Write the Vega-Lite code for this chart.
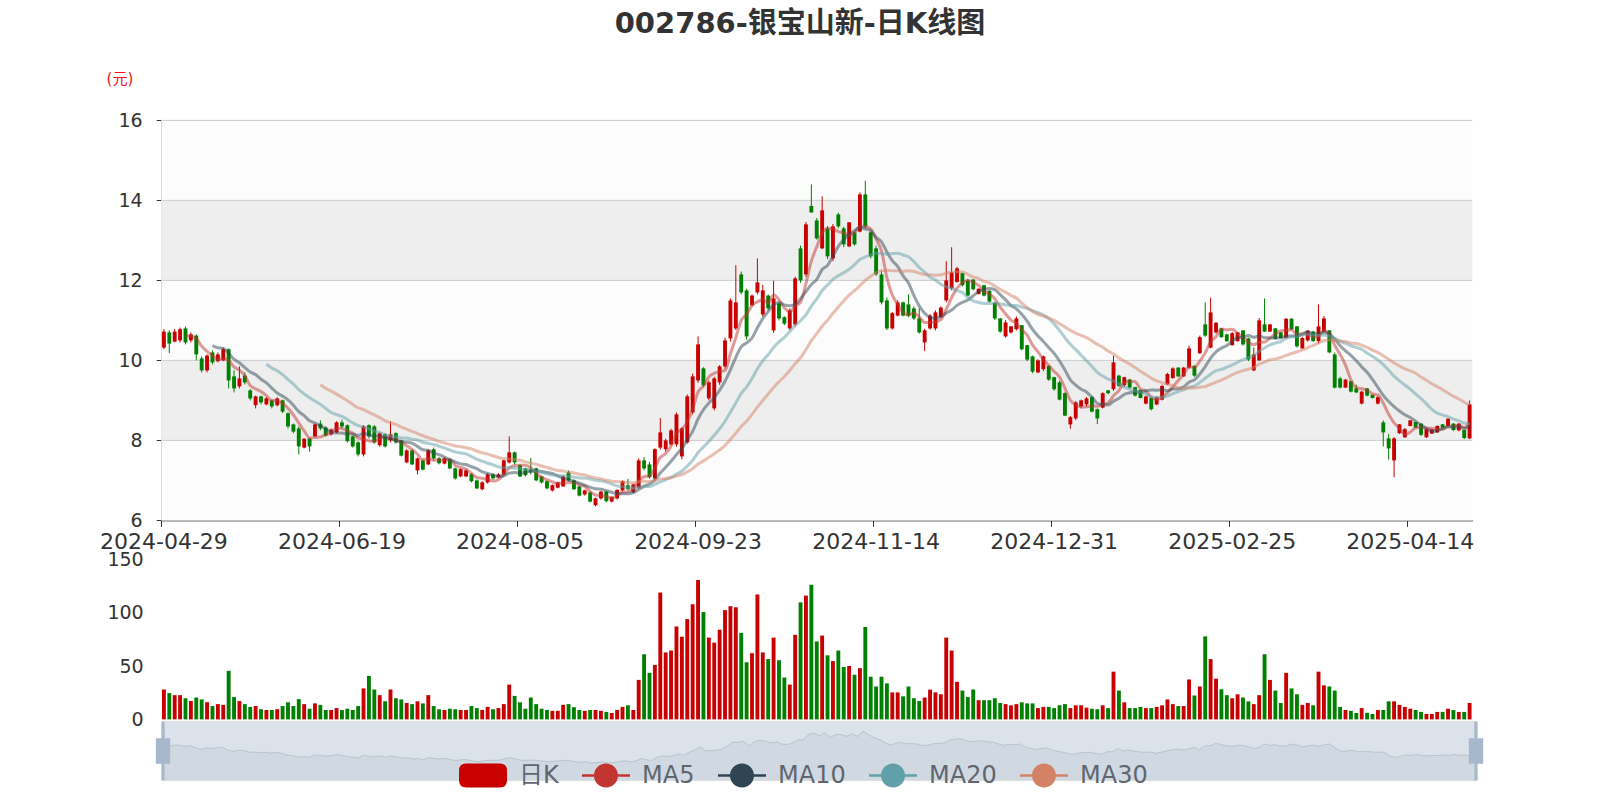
{
  "$schema": "https://vega.github.io/schema/vega-lite/v6.json",
  "width": 1600,
  "height": 800,
  "autosize": {"type": "fit", "contains": "padding"},
  "padding": 0,
  "background": "#ffffff",
  "config": {"view": {"stroke": null}, "font": "DejaVu Sans"},
  "title": {"text": "002786-银宝山新-日K线图", "font": "DejaVu Sans, Noto Sans CJK SC", "fontSize": 29, "fontWeight": "bold", "color": "#333333", "anchor": "middle", "frame": "group", "offset": -68, "baseline": "bottom"},
  "datasets": {
    "k": [
      {"d":"2024-04-29","o":10.32,"c":10.72,"l":10.28,"h":10.78,"v":28},
      {"d":"2024-04-30","o":10.70,"c":10.42,"l":10.18,"h":10.75,"v":24.6},
      {"d":"2024-05-06","o":10.47,"c":10.72,"l":10.45,"h":10.78,"v":22.7},
      {"d":"2024-05-07","o":10.50,"c":10.78,"l":10.45,"h":10.82,"v":22.7},
      {"d":"2024-05-08","o":10.80,"c":10.45,"l":10.40,"h":10.85,"v":19.8},
      {"d":"2024-05-09","o":10.50,"c":10.65,"l":10.45,"h":10.70,"v":17.2},
      {"d":"2024-05-10","o":10.62,"c":10.15,"l":10.00,"h":10.65,"v":20.5},
      {"d":"2024-05-13","o":10.05,"c":9.75,"l":9.70,"h":10.10,"v":18.7},
      {"d":"2024-05-14","o":9.75,"c":10.12,"l":9.70,"h":10.15,"v":16.1},
      {"d":"2024-05-15","o":10.20,"c":9.95,"l":9.90,"h":10.25,"v":12.5},
      {"d":"2024-05-16","o":9.98,"c":10.15,"l":9.95,"h":10.20,"v":14.3},
      {"d":"2024-05-17","o":10.00,"c":10.28,"l":9.98,"h":10.32,"v":13.6},
      {"d":"2024-05-20","o":10.28,"c":9.50,"l":9.30,"h":10.30,"v":45.5},
      {"d":"2024-05-21","o":9.60,"c":9.30,"l":9.20,"h":9.75,"v":20.9},
      {"d":"2024-05-22","o":9.35,"c":9.55,"l":9.30,"h":9.85,"v":17.2},
      {"d":"2024-05-23","o":9.62,"c":9.45,"l":9.40,"h":9.70,"v":14.3},
      {"d":"2024-05-24","o":9.25,"c":9.05,"l":9.00,"h":9.28,"v":11.7},
      {"d":"2024-05-27","o":8.88,"c":9.10,"l":8.80,"h":9.12,"v":12.5},
      {"d":"2024-05-28","o":9.10,"c":8.95,"l":8.90,"h":9.12,"v":9.5},
      {"d":"2024-05-29","o":8.90,"c":9.05,"l":8.88,"h":9.08,"v":8.8},
      {"d":"2024-05-30","o":9.00,"c":8.85,"l":8.80,"h":9.02,"v":8.8},
      {"d":"2024-05-31","o":8.88,"c":9.05,"l":8.85,"h":9.08,"v":9.5},
      {"d":"2024-06-03","o":9.00,"c":8.72,"l":8.68,"h":9.02,"v":12.5},
      {"d":"2024-06-04","o":8.68,"c":8.35,"l":8.30,"h":8.70,"v":16},
      {"d":"2024-06-05","o":8.40,"c":8.22,"l":8.18,"h":8.42,"v":12.5},
      {"d":"2024-06-06","o":8.30,"c":7.85,"l":7.65,"h":8.35,"v":19},
      {"d":"2024-06-07","o":7.82,"c":8.04,"l":7.80,"h":8.06,"v":14.3},
      {"d":"2024-06-11","o":8.05,"c":7.85,"l":7.72,"h":8.06,"v":10},
      {"d":"2024-06-12","o":8.10,"c":8.40,"l":8.08,"h":8.42,"v":15},
      {"d":"2024-06-13","o":8.42,"c":8.30,"l":8.25,"h":8.50,"v":13.6},
      {"d":"2024-06-14","o":8.32,"c":8.12,"l":8.10,"h":8.35,"v":8.8},
      {"d":"2024-06-17","o":8.15,"c":8.27,"l":8.12,"h":8.30,"v":8.8},
      {"d":"2024-06-18","o":8.20,"c":8.45,"l":8.18,"h":8.48,"v":10.6},
      {"d":"2024-06-19","o":8.45,"c":8.35,"l":8.30,"h":8.52,"v":8.8},
      {"d":"2024-06-20","o":8.38,"c":7.98,"l":7.95,"h":8.40,"v":10},
      {"d":"2024-06-21","o":8.10,"c":7.85,"l":7.82,"h":8.12,"v":8.8},
      {"d":"2024-06-24","o":7.95,"c":7.65,"l":7.60,"h":7.98,"v":12.5},
      {"d":"2024-06-25","o":7.65,"c":8.35,"l":7.60,"h":8.38,"v":29},
      {"d":"2024-06-26","o":8.38,"c":8.10,"l":8.05,"h":8.40,"v":40.7},
      {"d":"2024-06-27","o":8.35,"c":7.95,"l":7.92,"h":8.38,"v":28},
      {"d":"2024-06-28","o":7.88,"c":8.18,"l":7.84,"h":8.20,"v":22.7},
      {"d":"2024-07-01","o":8.15,"c":7.85,"l":7.82,"h":8.18,"v":17},
      {"d":"2024-07-02","o":8.00,"c":8.15,"l":7.95,"h":8.48,"v":28},
      {"d":"2024-07-03","o":8.18,"c":7.95,"l":7.92,"h":8.20,"v":19.8},
      {"d":"2024-07-04","o":8.00,"c":7.62,"l":7.60,"h":8.02,"v":18.7},
      {"d":"2024-07-05","o":7.45,"c":7.75,"l":7.43,"h":7.78,"v":15.4},
      {"d":"2024-07-08","o":7.75,"c":7.40,"l":7.38,"h":7.78,"v":14.3},
      {"d":"2024-07-09","o":7.25,"c":7.55,"l":7.15,"h":7.57,"v":16.9},
      {"d":"2024-07-10","o":7.50,"c":7.27,"l":7.25,"h":7.52,"v":15},
      {"d":"2024-07-11","o":7.40,"c":7.75,"l":7.38,"h":7.78,"v":22.7},
      {"d":"2024-07-12","o":7.78,"c":7.55,"l":7.50,"h":7.82,"v":12.5},
      {"d":"2024-07-15","o":7.55,"c":7.43,"l":7.40,"h":7.58,"v":9.5},
      {"d":"2024-07-16","o":7.42,"c":7.55,"l":7.40,"h":7.58,"v":8.8},
      {"d":"2024-07-17","o":7.52,"c":7.30,"l":7.28,"h":7.55,"v":10},
      {"d":"2024-07-18","o":7.30,"c":7.05,"l":7.02,"h":7.32,"v":9.5},
      {"d":"2024-07-19","o":7.10,"c":7.28,"l":7.08,"h":7.30,"v":8.8},
      {"d":"2024-07-22","o":7.10,"c":7.25,"l":7.08,"h":7.28,"v":8.8},
      {"d":"2024-07-23","o":7.15,"c":6.98,"l":6.95,"h":7.18,"v":12.5},
      {"d":"2024-07-24","o":7.00,"c":6.80,"l":6.78,"h":7.02,"v":10.6},
      {"d":"2024-07-25","o":6.78,"c":6.95,"l":6.75,"h":6.98,"v":8.8},
      {"d":"2024-07-26","o":6.95,"c":7.15,"l":6.92,"h":7.18,"v":11.7},
      {"d":"2024-07-29","o":7.15,"c":7.05,"l":7.02,"h":7.18,"v":9.5},
      {"d":"2024-07-30","o":7.08,"c":7.15,"l":7.05,"h":7.18,"v":10.6},
      {"d":"2024-07-31","o":7.15,"c":7.50,"l":7.12,"h":7.52,"v":14.3},
      {"d":"2024-08-01","o":7.45,"c":7.70,"l":7.42,"h":8.10,"v":32.6},
      {"d":"2024-08-02","o":7.70,"c":7.45,"l":7.40,"h":7.72,"v":22},
      {"d":"2024-08-05","o":7.38,"c":7.10,"l":7.08,"h":7.40,"v":16},
      {"d":"2024-08-06","o":7.30,"c":7.13,"l":7.10,"h":7.32,"v":10},
      {"d":"2024-08-07","o":7.28,"c":7.20,"l":7.15,"h":7.56,"v":20.5},
      {"d":"2024-08-08","o":7.30,"c":7.00,"l":6.98,"h":7.32,"v":14.3},
      {"d":"2024-08-09","o":7.10,"c":6.95,"l":6.92,"h":7.12,"v":10},
      {"d":"2024-08-12","o":6.98,"c":6.80,"l":6.78,"h":7.00,"v":8.8},
      {"d":"2024-08-13","o":6.75,"c":6.88,"l":6.72,"h":6.90,"v":8},
      {"d":"2024-08-14","o":6.82,"c":6.95,"l":6.80,"h":6.97,"v":8},
      {"d":"2024-08-15","o":6.85,"c":7.10,"l":6.84,"h":7.12,"v":13.6},
      {"d":"2024-08-16","o":7.20,"c":7.00,"l":6.98,"h":7.25,"v":14.3},
      {"d":"2024-08-19","o":7.00,"c":6.78,"l":6.76,"h":7.02,"v":11.4},
      {"d":"2024-08-20","o":6.85,"c":6.62,"l":6.60,"h":6.87,"v":8.8},
      {"d":"2024-08-21","o":6.65,"c":6.75,"l":6.62,"h":6.77,"v":8},
      {"d":"2024-08-22","o":6.70,"c":6.47,"l":6.45,"h":6.72,"v":8.8},
      {"d":"2024-08-23","o":6.38,"c":6.55,"l":6.35,"h":6.57,"v":8.8},
      {"d":"2024-08-26","o":6.55,"c":6.72,"l":6.52,"h":6.74,"v":8},
      {"d":"2024-08-27","o":6.72,"c":6.48,"l":6.45,"h":6.74,"v":7},
      {"d":"2024-08-28","o":6.47,"c":6.58,"l":6.45,"h":6.60,"v":6},
      {"d":"2024-08-29","o":6.55,"c":6.76,"l":6.52,"h":6.78,"v":8.8},
      {"d":"2024-08-30","o":6.75,"c":6.98,"l":6.72,"h":7.00,"v":11.7},
      {"d":"2024-09-02","o":6.88,"c":6.78,"l":6.75,"h":7.04,"v":13.2},
      {"d":"2024-09-03","o":6.70,"c":6.90,"l":6.68,"h":6.92,"v":8.8},
      {"d":"2024-09-04","o":6.82,"c":7.50,"l":6.79,"h":7.55,"v":37},
      {"d":"2024-09-05","o":7.50,"c":7.30,"l":7.25,"h":7.58,"v":61},
      {"d":"2024-09-06","o":7.40,"c":7.08,"l":7.04,"h":7.46,"v":43.6},
      {"d":"2024-09-09","o":7.05,"c":7.78,"l":7.02,"h":7.80,"v":51},
      {"d":"2024-09-10","o":7.82,"c":8.20,"l":7.77,"h":8.56,"v":118.8},
      {"d":"2024-09-11","o":7.78,"c":8.00,"l":7.72,"h":8.04,"v":62.7},
      {"d":"2024-09-12","o":7.90,"c":8.25,"l":7.87,"h":8.29,"v":64.5},
      {"d":"2024-09-13","o":7.90,"c":8.65,"l":7.84,"h":8.70,"v":87},
      {"d":"2024-09-18","o":7.60,"c":8.30,"l":7.53,"h":8.33,"v":77.4},
      {"d":"2024-09-19","o":7.95,"c":9.10,"l":7.92,"h":9.15,"v":93.9},
      {"d":"2024-09-20","o":8.70,"c":9.60,"l":8.65,"h":9.67,"v":107.8},
      {"d":"2024-09-23","o":9.50,"c":10.40,"l":9.44,"h":10.60,"v":130.5},
      {"d":"2024-09-24","o":9.80,"c":9.38,"l":9.34,"h":9.83,"v":100.5},
      {"d":"2024-09-25","o":9.05,"c":9.45,"l":9.00,"h":9.49,"v":76.6},
      {"d":"2024-09-26","o":8.80,"c":9.55,"l":8.75,"h":9.59,"v":71.9},
      {"d":"2024-09-27","o":9.45,"c":9.85,"l":9.39,"h":9.88,"v":84},
      {"d":"2024-09-30","o":9.85,"c":10.50,"l":9.79,"h":10.57,"v":102.3},
      {"d":"2024-10-08","o":10.55,"c":11.50,"l":10.47,"h":11.55,"v":106},
      {"d":"2024-10-09","o":10.80,"c":11.45,"l":10.76,"h":12.38,"v":105},
      {"d":"2024-10-10","o":12.15,"c":11.70,"l":11.65,"h":12.22,"v":81},
      {"d":"2024-10-11","o":11.75,"c":10.60,"l":10.52,"h":11.79,"v":53.5},
      {"d":"2024-10-14","o":11.38,"c":11.62,"l":11.35,"h":11.65,"v":62},
      {"d":"2024-10-15","o":11.70,"c":11.95,"l":11.65,"h":12.55,"v":117},
      {"d":"2024-10-16","o":11.15,"c":11.75,"l":11.10,"h":11.89,"v":62.7},
      {"d":"2024-10-17","o":11.62,"c":11.30,"l":11.25,"h":11.65,"v":56.5},
      {"d":"2024-10-18","o":10.75,"c":11.55,"l":10.69,"h":11.99,"v":76.6},
      {"d":"2024-10-21","o":11.42,"c":11.05,"l":11.00,"h":11.45,"v":55.4},
      {"d":"2024-10-22","o":11.08,"c":10.92,"l":10.88,"h":11.10,"v":39.2},
      {"d":"2024-10-23","o":10.80,"c":11.25,"l":10.76,"h":11.30,"v":32.6},
      {"d":"2024-10-24","o":10.90,"c":12.05,"l":10.86,"h":12.09,"v":79.2},
      {"d":"2024-10-25","o":12.80,"c":12.00,"l":11.94,"h":12.87,"v":109.6},
      {"d":"2024-10-28","o":12.15,"c":13.40,"l":12.09,"h":13.46,"v":115.9},
      {"d":"2024-10-29","o":13.86,"c":13.70,"l":13.69,"h":14.40,"v":126},
      {"d":"2024-10-30","o":13.50,"c":13.05,"l":13.02,"h":13.56,"v":73},
      {"d":"2024-10-31","o":12.80,"c":13.75,"l":12.78,"h":14.10,"v":78.5},
      {"d":"2024-11-01","o":13.30,"c":12.60,"l":12.53,"h":13.36,"v":60},
      {"d":"2024-11-04","o":12.55,"c":13.35,"l":12.48,"h":13.41,"v":54.6},
      {"d":"2024-11-05","o":13.65,"c":13.35,"l":13.30,"h":13.69,"v":64.5},
      {"d":"2024-11-06","o":13.30,"c":12.90,"l":12.83,"h":13.34,"v":49},
      {"d":"2024-11-07","o":12.85,"c":13.45,"l":12.83,"h":13.46,"v":50},
      {"d":"2024-11-08","o":13.20,"c":12.90,"l":12.87,"h":13.22,"v":41.8},
      {"d":"2024-11-11","o":13.22,"c":14.15,"l":13.20,"h":14.20,"v":48},
      {"d":"2024-11-12","o":14.15,"c":13.35,"l":13.30,"h":14.49,"v":86.5},
      {"d":"2024-11-13","o":13.20,"c":12.60,"l":12.55,"h":13.22,"v":40},
      {"d":"2024-11-14","o":12.80,"c":12.15,"l":12.12,"h":12.87,"v":30.8},
      {"d":"2024-11-15","o":12.15,"c":11.45,"l":11.40,"h":12.24,"v":40},
      {"d":"2024-11-18","o":11.50,"c":10.80,"l":10.76,"h":11.57,"v":33.7},
      {"d":"2024-11-19","o":10.80,"c":11.18,"l":10.77,"h":11.21,"v":25.3},
      {"d":"2024-11-20","o":11.12,"c":11.45,"l":11.10,"h":11.50,"v":25.3},
      {"d":"2024-11-21","o":11.45,"c":11.12,"l":11.10,"h":11.47,"v":21.6},
      {"d":"2024-11-22","o":11.40,"c":11.12,"l":11.08,"h":11.65,"v":30.8},
      {"d":"2024-11-25","o":11.30,"c":11.05,"l":11.01,"h":11.35,"v":19.8},
      {"d":"2024-11-26","o":11.05,"c":10.70,"l":10.67,"h":11.30,"v":17.2},
      {"d":"2024-11-27","o":10.45,"c":10.75,"l":10.23,"h":10.79,"v":20.5},
      {"d":"2024-11-28","o":10.80,"c":11.12,"l":10.77,"h":11.16,"v":27.9},
      {"d":"2024-11-29","o":10.80,"c":11.20,"l":10.75,"h":11.25,"v":25.3},
      {"d":"2024-12-02","o":11.08,"c":11.32,"l":11.06,"h":11.35,"v":23.5},
      {"d":"2024-12-03","o":11.50,"c":12.00,"l":11.45,"h":12.48,"v":76.6},
      {"d":"2024-12-04","o":11.80,"c":12.20,"l":11.75,"h":12.83,"v":64.5},
      {"d":"2024-12-05","o":11.96,"c":12.30,"l":11.94,"h":12.34,"v":35.2},
      {"d":"2024-12-06","o":12.18,"c":11.88,"l":11.85,"h":12.19,"v":27},
      {"d":"2024-12-09","o":12.00,"c":11.62,"l":11.60,"h":12.04,"v":20.9},
      {"d":"2024-12-10","o":12.02,"c":11.78,"l":11.75,"h":12.04,"v":28},
      {"d":"2024-12-11","o":11.66,"c":11.79,"l":11.65,"h":11.80,"v":18},
      {"d":"2024-12-12","o":11.88,"c":11.62,"l":11.60,"h":11.89,"v":18},
      {"d":"2024-12-13","o":11.74,"c":11.47,"l":11.45,"h":11.75,"v":18},
      {"d":"2024-12-16","o":11.44,"c":11.05,"l":11.01,"h":11.45,"v":19.8},
      {"d":"2024-12-17","o":11.05,"c":10.72,"l":10.69,"h":11.06,"v":15.4},
      {"d":"2024-12-18","o":10.60,"c":10.95,"l":10.57,"h":11.01,"v":14.3},
      {"d":"2024-12-19","o":10.70,"c":10.85,"l":10.67,"h":10.86,"v":13.2},
      {"d":"2024-12-20","o":10.78,"c":11.05,"l":10.75,"h":11.10,"v":14.3},
      {"d":"2024-12-23","o":10.88,"c":10.28,"l":10.25,"h":10.88,"v":16},
      {"d":"2024-12-24","o":10.38,"c":10.02,"l":9.98,"h":10.39,"v":15},
      {"d":"2024-12-25","o":10.10,"c":9.72,"l":9.68,"h":10.12,"v":15},
      {"d":"2024-12-26","o":9.70,"c":10.00,"l":9.68,"h":10.03,"v":10.6},
      {"d":"2024-12-27","o":9.78,"c":10.10,"l":9.73,"h":10.12,"v":11.7},
      {"d":"2024-12-30","o":9.86,"c":9.52,"l":9.49,"h":9.88,"v":11.7},
      {"d":"2024-12-31","o":9.58,"c":9.28,"l":9.24,"h":9.59,"v":10.6},
      {"d":"2025-01-02","o":9.45,"c":9.02,"l":9.00,"h":9.49,"v":13.2},
      {"d":"2025-01-03","o":9.18,"c":8.62,"l":8.61,"h":9.20,"v":14.3},
      {"d":"2025-01-06","o":8.40,"c":8.58,"l":8.29,"h":8.61,"v":10.6},
      {"d":"2025-01-07","o":8.55,"c":8.95,"l":8.51,"h":8.98,"v":13.2},
      {"d":"2025-01-08","o":8.85,"c":9.00,"l":8.80,"h":9.02,"v":13.2},
      {"d":"2025-01-09","o":8.90,"c":9.05,"l":8.85,"h":9.08,"v":11},
      {"d":"2025-01-10","o":9.08,"c":8.72,"l":8.70,"h":9.10,"v":10},
      {"d":"2025-01-13","o":8.78,"c":8.55,"l":8.41,"h":8.80,"v":9.5},
      {"d":"2025-01-14","o":8.82,"c":9.18,"l":8.80,"h":9.20,"v":13.2},
      {"d":"2025-01-15","o":9.25,"c":9.18,"l":9.15,"h":9.26,"v":10.6},
      {"d":"2025-01-16","o":9.28,"c":9.95,"l":9.24,"h":10.12,"v":44.7},
      {"d":"2025-01-17","o":9.62,"c":9.36,"l":9.34,"h":9.64,"v":27},
      {"d":"2025-01-20","o":9.38,"c":9.58,"l":9.34,"h":9.59,"v":16},
      {"d":"2025-01-21","o":9.52,"c":9.32,"l":9.30,"h":9.54,"v":10.6},
      {"d":"2025-01-22","o":9.33,"c":9.12,"l":9.10,"h":9.34,"v":10.6},
      {"d":"2025-01-23","o":9.26,"c":9.06,"l":9.05,"h":9.27,"v":11.7},
      {"d":"2025-01-24","o":8.92,"c":9.10,"l":8.90,"h":9.12,"v":10.6},
      {"d":"2025-01-27","o":9.06,"c":8.78,"l":8.75,"h":9.08,"v":10.6},
      {"d":"2025-02-05","o":8.90,"c":9.08,"l":8.88,"h":9.10,"v":11.7},
      {"d":"2025-02-06","o":9.02,"c":9.36,"l":9.00,"h":9.39,"v":13.2},
      {"d":"2025-02-07","o":9.40,"c":9.66,"l":9.39,"h":9.69,"v":18.7},
      {"d":"2025-02-10","o":9.56,"c":9.80,"l":9.54,"h":9.83,"v":14.3},
      {"d":"2025-02-11","o":9.82,"c":9.60,"l":9.59,"h":9.83,"v":12.5},
      {"d":"2025-02-12","o":9.60,"c":9.82,"l":9.59,"h":9.84,"v":12.5},
      {"d":"2025-02-13","o":9.82,"c":10.30,"l":9.79,"h":10.37,"v":37.4},
      {"d":"2025-02-14","o":9.86,"c":9.62,"l":9.59,"h":9.88,"v":22.4},
      {"d":"2025-02-17","o":10.18,"c":10.58,"l":10.16,"h":10.62,"v":30.8},
      {"d":"2025-02-18","o":10.90,"c":10.62,"l":10.59,"h":11.45,"v":77.7},
      {"d":"2025-02-19","o":10.32,"c":11.20,"l":10.30,"h":11.57,"v":56.5},
      {"d":"2025-02-20","o":10.70,"c":10.94,"l":10.67,"h":10.96,"v":38.1},
      {"d":"2025-02-21","o":10.80,"c":10.58,"l":10.57,"h":10.81,"v":28.2},
      {"d":"2025-02-24","o":10.65,"c":10.48,"l":10.47,"h":10.67,"v":22.7},
      {"d":"2025-02-25","o":10.38,"c":10.68,"l":10.37,"h":10.71,"v":19.8},
      {"d":"2025-02-26","o":10.48,"c":10.70,"l":10.47,"h":10.71,"v":23.5},
      {"d":"2025-02-27","o":10.75,"c":10.40,"l":10.37,"h":10.76,"v":20.5},
      {"d":"2025-02-28","o":10.55,"c":10.02,"l":9.98,"h":10.57,"v":16.9},
      {"d":"2025-03-03","o":9.75,"c":10.15,"l":9.73,"h":10.32,"v":14.3},
      {"d":"2025-03-04","o":10.00,"c":11.00,"l":9.98,"h":11.06,"v":22.7},
      {"d":"2025-03-05","o":10.90,"c":10.72,"l":10.71,"h":11.55,"v":61},
      {"d":"2025-03-06","o":10.72,"c":10.90,"l":10.71,"h":10.91,"v":37},
      {"d":"2025-03-07","o":10.80,"c":10.54,"l":10.52,"h":10.81,"v":27},
      {"d":"2025-03-10","o":10.70,"c":10.56,"l":10.55,"h":10.71,"v":15.4},
      {"d":"2025-03-11","o":10.56,"c":11.04,"l":10.55,"h":11.06,"v":43.6},
      {"d":"2025-03-12","o":11.04,"c":10.78,"l":10.76,"h":11.06,"v":29},
      {"d":"2025-03-13","o":10.85,"c":10.35,"l":10.32,"h":10.86,"v":23.5},
      {"d":"2025-03-14","o":10.30,"c":10.56,"l":10.28,"h":10.59,"v":13.6},
      {"d":"2025-03-17","o":10.50,"c":10.74,"l":10.47,"h":10.76,"v":15.4},
      {"d":"2025-03-18","o":10.72,"c":10.48,"l":10.47,"h":10.74,"v":13.2},
      {"d":"2025-03-19","o":10.48,"c":10.85,"l":10.42,"h":11.40,"v":44.7},
      {"d":"2025-03-20","o":10.72,"c":11.05,"l":10.71,"h":11.11,"v":31.9},
      {"d":"2025-03-21","o":10.75,"c":10.20,"l":10.18,"h":10.76,"v":30.8},
      {"d":"2025-03-24","o":10.15,"c":9.32,"l":9.30,"h":10.20,"v":27},
      {"d":"2025-03-25","o":9.55,"c":9.32,"l":9.30,"h":9.59,"v":11.7},
      {"d":"2025-03-26","o":9.32,"c":9.52,"l":9.31,"h":9.54,"v":8.8},
      {"d":"2025-03-27","o":9.48,"c":9.22,"l":9.20,"h":9.49,"v":8},
      {"d":"2025-03-28","o":9.30,"c":9.20,"l":9.18,"h":9.39,"v":6},
      {"d":"2025-03-31","o":8.92,"c":9.22,"l":8.90,"h":9.24,"v":10.6},
      {"d":"2025-04-01","o":9.30,"c":9.12,"l":9.10,"h":9.31,"v":6.2},
      {"d":"2025-04-02","o":9.14,"c":9.06,"l":9.05,"h":9.14,"v":5.1},
      {"d":"2025-04-03","o":8.92,"c":9.08,"l":8.90,"h":9.10,"v":8.8},
      {"d":"2025-04-07","o":8.45,"c":8.20,"l":7.85,"h":8.50,"v":8.8},
      {"d":"2025-04-08","o":8.05,"c":7.80,"l":7.52,"h":8.16,"v":16.9},
      {"d":"2025-04-09","o":7.50,"c":8.05,"l":7.08,"h":8.08,"v":16.9},
      {"d":"2025-04-10","o":8.18,"c":8.40,"l":8.16,"h":8.41,"v":13.6},
      {"d":"2025-04-11","o":8.08,"c":8.28,"l":8.06,"h":8.31,"v":11.7},
      {"d":"2025-04-14","o":8.36,"c":8.50,"l":8.35,"h":8.51,"v":10},
      {"d":"2025-04-15","o":8.46,"c":8.32,"l":8.31,"h":8.46,"v":8.8},
      {"d":"2025-04-16","o":8.42,"c":8.14,"l":8.11,"h":8.43,"v":7},
      {"d":"2025-04-17","o":8.08,"c":8.28,"l":8.06,"h":8.31,"v":5.1},
      {"d":"2025-04-18","o":8.17,"c":8.28,"l":8.16,"h":8.29,"v":5.1},
      {"d":"2025-04-21","o":8.20,"c":8.36,"l":8.19,"h":8.38,"v":7},
      {"d":"2025-04-22","o":8.40,"c":8.32,"l":8.31,"h":8.41,"v":7},
      {"d":"2025-04-23","o":8.36,"c":8.54,"l":8.35,"h":8.56,"v":10},
      {"d":"2025-04-24","o":8.42,"c":8.26,"l":8.23,"h":8.43,"v":8.8},
      {"d":"2025-04-25","o":8.25,"c":8.42,"l":8.23,"h":8.43,"v":7},
      {"d":"2025-04-28","o":8.26,"c":8.06,"l":8.03,"h":8.26,"v":7},
      {"d":"2025-04-29","o":8.05,"c":8.90,"l":8.03,"h":9.00,"v":15.4}
    ]
  },
  "data": {"name": "k"},
  "layer": [
    {
      "data": {"values": [{}]},
      "layer": [
        {
          "mark": {"type": "rect", "color": "#fcfcfc"},
          "encoding": {
            "x": {"datum": 0, "type": "quantitative", "scale": {"domain": [0, 1], "range": [161.2, 1472.3], "nice": false, "zero": false}, "axis": null},
            "x2": {"datum": 1},
            "y": {"datum": 16, "type": "quantitative", "scale": {"domain": [6, 16], "range": [520.4, 120.4], "nice": false, "zero": false},
              "axis": {"orient": "left", "offset": -161.2, "values": [6, 8, 10, 12, 14, 16], "format": "d", "grid": false, "domainColor": "#333333", "domainWidth": 1, "tickColor": "#333333", "tickSize": 5, "labelFontSize": 19, "labelColor": "#333333", "labelPadding": 14, "labelFont": "DejaVu Sans",
                "title": "(元)", "titleColor": "#ee1111", "titleFontSize": 15, "titleFontWeight": "normal", "titleFont": "DejaVu Sans, Noto Sans CJK SC", "titleAngle": 0, "titleX": -41.8, "titleY": 78.6, "titleAlign": "center", "titleBaseline": "middle"}},
            "y2": {"datum": 6}
          }
        },
        {
          "mark": {"type": "rect", "color": "#eeeeee"},
          "encoding": {"x": {"datum": 0, "type": "quantitative"}, "x2": {"datum": 1}, "y": {"datum": 14, "type": "quantitative"}, "y2": {"datum": 12}}
        },
        {
          "mark": {"type": "rect", "color": "#eeeeee"},
          "encoding": {"x": {"datum": 0, "type": "quantitative"}, "x2": {"datum": 1}, "y": {"datum": 10, "type": "quantitative"}, "y2": {"datum": 8}}
        },
        {"mark": {"type": "rule", "color": "#cccccc", "strokeWidth": 1}, "encoding": {"x": {"datum": 0, "type": "quantitative"}, "x2": {"datum": 1}, "y": {"datum": 16, "type": "quantitative"}}},
        {"mark": {"type": "rule", "color": "#cccccc", "strokeWidth": 1}, "encoding": {"x": {"datum": 0, "type": "quantitative"}, "x2": {"datum": 1}, "y": {"datum": 14, "type": "quantitative"}}},
        {"mark": {"type": "rule", "color": "#cccccc", "strokeWidth": 1}, "encoding": {"x": {"datum": 0, "type": "quantitative"}, "x2": {"datum": 1}, "y": {"datum": 12, "type": "quantitative"}}},
        {"mark": {"type": "rule", "color": "#cccccc", "strokeWidth": 1}, "encoding": {"x": {"datum": 0, "type": "quantitative"}, "x2": {"datum": 1}, "y": {"datum": 10, "type": "quantitative"}}},
        {"mark": {"type": "rule", "color": "#cccccc", "strokeWidth": 1}, "encoding": {"x": {"datum": 0, "type": "quantitative"}, "x2": {"datum": 1}, "y": {"datum": 8, "type": "quantitative"}}}
      ]
    },
    {
      "layer": [
        {
          "mark": {"type": "rule", "strokeWidth": 1},
          "encoding": {
            "x": {"field": "d", "type": "ordinal", "scale": {"type": "band", "range": [161.2, 1472.3], "paddingInner": 0, "paddingOuter": 0},
              "axis": {"orient": "bottom", "offset": -279.6, "values": ["2024-04-29", "2024-06-19", "2024-08-05", "2024-09-23", "2024-11-14", "2024-12-31", "2025-02-25", "2025-04-14"], "bandPosition": 0, "labelAngle": 0, "labelFontSize": 22, "labelColor": "#333333", "labelFont": "DejaVu Sans", "labelPadding": 5, "tickSize": 6, "tickColor": "#333333", "domainColor": "#333333", "domainWidth": 1, "grid": false, "title": null, "labelOverlap": false}},
            "y": {"field": "l", "type": "quantitative", "scale": {"domain": [6, 16], "range": [520.4, 120.4], "nice": false, "zero": false}, "axis": null},
            "y2": {"field": "h"},
            "color": {"condition": {"test": "datum.c >= datum.o", "value": "#c80000"}, "value": "#008000"}
          }
        },
        {
          "mark": {"type": "bar", "width": {"band": 0.72}},
          "encoding": {
            "x": {"field": "d", "type": "ordinal"},
            "y": {"field": "o", "type": "quantitative"},
            "y2": {"field": "c"},
            "color": {"condition": {"test": "datum.c >= datum.o", "value": "#c80000"}, "value": "#008000"}
          }
        },
        {
          "transform": [{"window": [{"op": "mean", "field": "c", "as": "ma"}, {"op": "count", "as": "n"}], "frame": [-4, 0], "sort": [{"field": "d"}]}, {"filter": "datum.n == 5"}],
          "mark": {"type": "line", "interpolate": "monotone", "strokeWidth": 3, "opacity": 0.5},
          "encoding": {
            "x": {"field": "d", "type": "ordinal"},
            "y": {"field": "ma", "type": "quantitative"},
            "color": {"datum": "MA5", "type": "nominal",
              "scale": {"domain": ["日K", "MA5", "MA10", "MA20", "MA30"], "range": ["#c80000", "#c23531", "#2f4554", "#61a0a8", "#d48265"]},
              "legend": {"orient": "none", "legendX": 459, "legendY": 751.5, "direction": "horizontal", "title": null, "labelFontSize": 24, "labelColor": "#5f6670", "labelFont": "DejaVu Sans, Noto Sans CJK SC", "symbolSize": 2304, "columnPadding": 23, "labelOffset": 12, "symbolOpacity": 1, "symbolStrokeWidth": 0,
                "encode": {"symbols": {"update": {
                  "shape": {"signal": "datum.value === '日K' ? 'M-0.7,-0.5 L0.7,-0.5 Q1,-0.5 1,-0.2 L1,0.2 Q1,0.5 0.7,0.5 L-0.7,0.5 Q-1,0.5 -1,0.2 L-1,-0.2 Q-1,-0.5 -0.7,-0.5 Z' : 'M-1,-0.05 L1,-0.05 L1,0.05 L-1,0.05 Z M0.5,0 A0.5,0.5 0 1,1 -0.5,0 A0.5,0.5 0 1,1 0.5,0 Z'"},
                  "fill": {"scale": "color", "field": "value"},
                  "opacity": {"value": 1},
                  "strokeWidth": {"value": 0}
                }}}}
            }
          }
        },
        {
          "transform": [{"window": [{"op": "mean", "field": "c", "as": "ma"}, {"op": "count", "as": "n"}], "frame": [-9, 0], "sort": [{"field": "d"}]}, {"filter": "datum.n == 10"}],
          "mark": {"type": "line", "interpolate": "monotone", "strokeWidth": 3, "opacity": 0.5},
          "encoding": {"x": {"field": "d", "type": "ordinal"}, "y": {"field": "ma", "type": "quantitative"}, "color": {"datum": "MA10", "type": "nominal"}}
        },
        {
          "transform": [{"window": [{"op": "mean", "field": "c", "as": "ma"}, {"op": "count", "as": "n"}], "frame": [-19, 0], "sort": [{"field": "d"}]}, {"filter": "datum.n == 20"}],
          "mark": {"type": "line", "interpolate": "monotone", "strokeWidth": 3, "opacity": 0.5},
          "encoding": {"x": {"field": "d", "type": "ordinal"}, "y": {"field": "ma", "type": "quantitative"}, "color": {"datum": "MA20", "type": "nominal"}}
        },
        {
          "transform": [{"window": [{"op": "mean", "field": "c", "as": "ma"}, {"op": "count", "as": "n"}], "frame": [-29, 0], "sort": [{"field": "d"}]}, {"filter": "datum.n == 30"}],
          "mark": {"type": "line", "interpolate": "monotone", "strokeWidth": 3, "opacity": 0.5},
          "encoding": {"x": {"field": "d", "type": "ordinal"}, "y": {"field": "ma", "type": "quantitative"}, "color": {"datum": "MA30", "type": "nominal"}}
        }
      ]
    },
    {
      "mark": {"type": "bar", "width": {"band": 0.72}},
      "encoding": {
        "x": {"field": "d", "type": "ordinal", "scale": {"type": "band", "range": [161.2, 1472.3], "paddingInner": 0, "paddingOuter": 0}, "axis": null},
        "y": {"field": "v", "type": "quantitative", "scale": {"domain": [0, 150], "range": [719.4, 559.2], "nice": false},
          "axis": {"orient": "left", "offset": -161.2, "values": [0, 50, 100, 150], "domain": false, "ticks": false, "grid": false, "labelFontSize": 19, "labelColor": "#333333", "labelFont": "DejaVu Sans", "labelPadding": 18, "title": null}},
        "color": {"condition": {"test": "datum.c >= datum.o", "value": "#c80000"}, "value": "#008000"}
      }
    },
    {
      "layer": [
        {
          "layer": [
            {
              "mark": {"type": "area", "color": "#2f4554", "opacity": 0.09},
              "encoding": {
                "x": {"field": "d", "type": "ordinal", "scale": {"type": "point", "range": [163, 1476], "padding": 0}, "axis": null},
                "y": {"field": "c", "type": "quantitative", "scale": {"domain": [2.2, 16.5], "range": [780.6, 721.4], "nice": false, "zero": false}, "axis": null},
                "y2": {"datum": 2.2}
              }
            },
            {
              "mark": {"type": "line", "color": "#2f4554", "opacity": 0.3, "strokeWidth": 0.8},
              "encoding": {"x": {"field": "d", "type": "ordinal"}, "y": {"field": "c", "type": "quantitative"}}
            }
          ]
        },
        {
          "data": {"values": [{}]},
          "layer": [
            {
              "mark": {"type": "rect", "fill": "#a7b7cb", "fillOpacity": 0.4, "stroke": "#dddddd", "strokeWidth": 1},
              "encoding": {
                "x": {"datum": 0, "type": "quantitative", "scale": {"domain": [0, 1], "range": [163, 1476], "nice": false, "zero": false}, "axis": null},
                "x2": {"datum": 1},
                "y": {"datum": 2.2, "type": "quantitative"},
                "y2": {"datum": 16.5}
              }
            },
            {
              "mark": {"type": "point", "filled": true, "color": "#a7b7cc", "opacity": 1, "size": 3505, "shape": "M-0.242,-0.434 L0.242,-0.434 L0.242,0.434 L-0.242,0.434 Z M-0.055,-1 L0.055,-1 L0.055,1 L-0.055,1 Z"},
              "encoding": {"x": {"datum": 0, "type": "quantitative"}, "y": {"datum": 9.35, "type": "quantitative"}}
            },
            {
              "mark": {"type": "point", "filled": true, "color": "#a7b7cc", "opacity": 1, "size": 3505, "shape": "M-0.242,-0.434 L0.242,-0.434 L0.242,0.434 L-0.242,0.434 Z M-0.055,-1 L0.055,-1 L0.055,1 L-0.055,1 Z"},
              "encoding": {"x": {"datum": 1, "type": "quantitative"}, "y": {"datum": 9.35, "type": "quantitative"}}
            }
          ]
        }
      ],
      "resolve": {"scale": {"x": "independent"}}
    }
  ],
  "resolve": {"scale": {"x": "independent", "y": "independent"}, "axis": {"x": "independent", "y": "independent"}}
}
